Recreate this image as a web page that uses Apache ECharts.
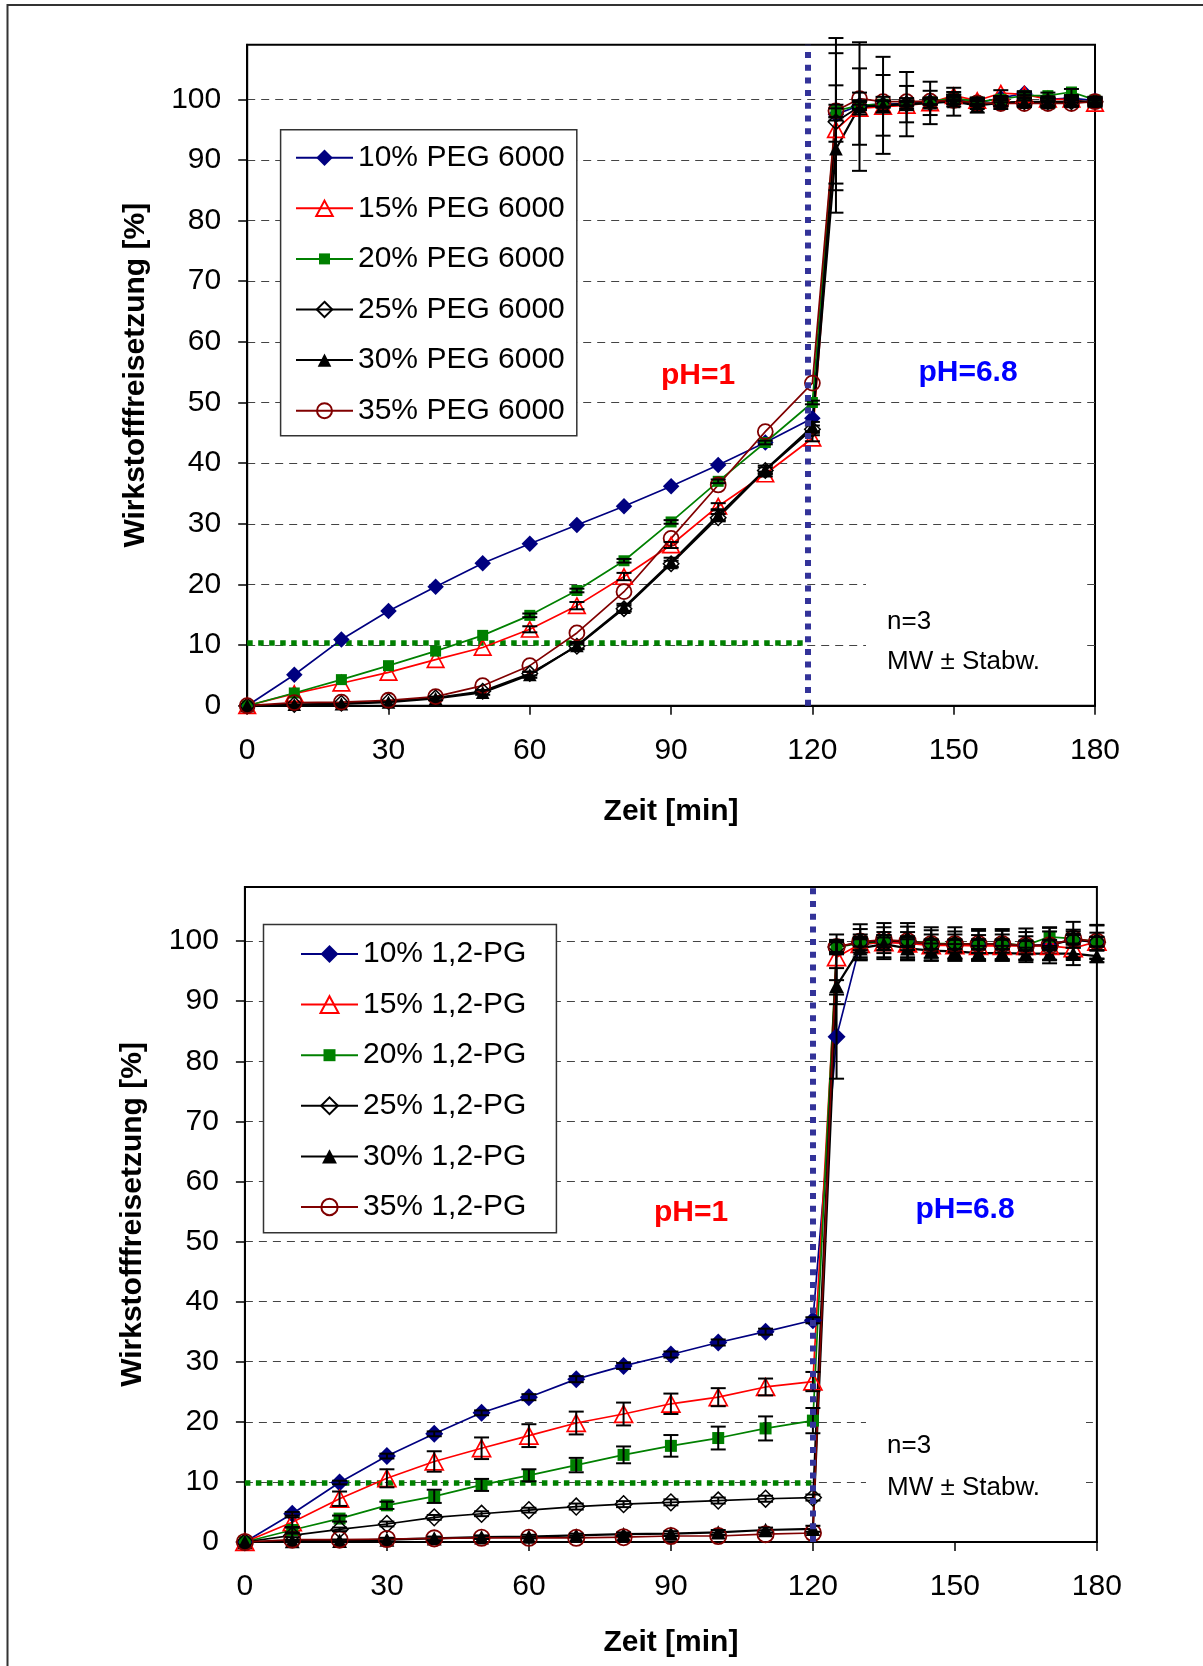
<!DOCTYPE html>
<html><head><meta charset="utf-8">
<script src="https://cdn.jsdelivr.net/npm/echarts@6/dist/echarts.min.js"></script>
<style>html,body{margin:0;padding:0;background:#fff}#c{width:1203px;height:1666px}</style>
</head><body><div id="c"></div>
<script>
// ---------- data ----------
const timeMin = [0,10,20,30,40,50,60,70,80,90,100,110,120,125,130,135,140,145,150,155,160,165,170,175,180];
const xTickLabels = [0,30,60,90,120,150,180];
const yTickLabels = [0,10,20,30,40,50,60,70,80,90,100];

const pegNames = ['10% PEG 6000','15% PEG 6000','20% PEG 6000','25% PEG 6000','30% PEG 6000','35% PEG 6000'];
const pgNames  = ['10% 1,2-PG','15% 1,2-PG','20% 1,2-PG','25% 1,2-PG','30% 1,2-PG','35% 1,2-PG'];

const peg10 = [0,5.1,10.9,15.6,19.6,23.5,26.7,29.8,32.9,36.2,39.7,43.4,47.4, 97.5,99.0,99.2,99.3,99.6,100.0,99.4,100.2,101.0,100.0,100.2,99.8];
const peg15 = [0,2.0,3.7,5.5,7.6,9.6,12.6,16.5,21.3,26.5,32.9,38.2,44.1, 95.0,98.5,98.8,99.0,99.4,100.6,99.8,101.0,100.8,100.0,100.0,99.3];
const peg20 = [0,2.1,4.3,6.6,9.0,11.6,14.9,19.0,23.9,30.3,37.0,43.4,50.0, 98.1,99.0,99.2,99.0,99.6,100.2,99.6,100.0,100.6,100.6,101.2,99.9];
const peg25 = [0,0.2,0.4,0.7,1.3,2.4,5.3,9.8,16.0,23.4,31.0,38.8,45.6, 96.3,98.8,99.0,99.2,99.4,99.8,99.2,99.5,99.6,99.6,99.6,99.6];
const peg30 = [0,0.2,0.3,0.6,1.2,2.2,5.1,9.9,16.2,23.6,31.4,38.9,46.0, 91.8,98.8,99.0,99.2,99.4,99.6,99.0,99.4,99.5,99.4,99.6,99.6];
const peg35 = [0,0.5,0.6,0.9,1.5,3.3,6.6,12.0,18.8,27.6,36.4,45.2,53.2, 98.1,100.1,99.6,99.6,99.7,99.8,99.4,99.3,99.3,99.3,99.3,99.6];

const peg10Sd = [0,0,0,0,0,0,0,0,0,0,0,0,0, 1.0,0.6,0.5,0.4,0.4,0.3,0.3,0.3,0.3,0.3,0.3,0.3];
const peg15Sd = [0,0,0,0,0,0,0.5,0.6,0.6,0.5,0.5,0.4,0.5, 2.0,1.0,1.0,0.8,0.8,0.6,0.5,0.5,0.5,0.5,0.5,0.5];
const peg20Sd = [0,0,0,0,0,0,0.3,0.3,0.3,0.3,0.3,0.3,0.3, 1.0,0.8,0.6,0.5,0.5,0.5,0.5,0.5,0.5,0.5,0.5,0.5];
const peg25Sd = [0,0,0,0,0,0,0.3,0.4,0.5,0.5,0.6,0.5,0.6, 11.3,6.3,5.0,3.0,2.0,1.0,0.8,0.6,0.6,0.6,0.6,0.6];
const peg30Sd = [0,0,0,0,0.3,0.4,0.5,0.6,0.6,0.8,0.8,0.7,0.8, 10.5,10.6,8.0,5.3,3.5,2.3,1.2,1.0,0.8,0.8,0.8,0.8];
const peg35Sd = [0,0,0,0,0,0,0,0,0,0,0,0,0, 12.0,1.0,0.8,0.6,0.6,0.6,0.5,0.5,0.5,0.5,0.5,0.5];

const pg10 = [0,4.7,9.9,14.3,18.0,21.5,24.1,27.1,29.3,31.2,33.2,35.0,36.9, 84.1,99.5,99.8,99.8,99.4,99.4,99.4,99.4,99.2,99.4,100.2,99.9];
const pg15 = [0,3.3,7.2,10.6,13.4,15.6,17.7,19.8,21.3,23.0,24.1,25.8,26.7, 97.3,99.5,99.8,99.6,99.3,99.3,99.2,99.2,99.2,99.2,98.8,99.9];
const pg20 = [0,2.0,3.9,6.1,7.6,9.5,11.1,12.8,14.5,16.0,17.3,18.9,20.2, 99.0,99.6,100.0,100.0,99.6,99.6,99.5,99.6,99.3,100.7,100.4,99.9];
const pg25 = [0,1.1,2.1,3.0,4.1,4.7,5.3,5.9,6.3,6.6,6.9,7.2,7.4, 99.0,99.8,100.0,100.0,99.5,99.5,99.5,99.5,99.3,99.3,100.2,99.8];
const pg30 = [0,0.15,0.2,0.4,0.6,0.8,0.9,1.1,1.3,1.4,1.6,2.0,2.2, 92.5,98.8,99.5,98.8,98.4,98.3,98.0,98.0,97.9,97.9,97.9,97.5];
const pg35 = [0,0.4,0.4,0.5,0.6,0.7,0.7,0.7,0.8,1.0,1.0,1.3,1.5, 99.0,99.9,100.2,100.0,99.5,99.5,99.5,99.5,99.3,99.3,100.4,99.9];

const pg10Sd = [0,0.3,0.3,0.4,0.4,0.4,0.5,0.5,0.5,0.5,0.5,0.5,0.5, 7.0,1.0,0.8,0.8,0.8,0.8,0.8,0.8,0.8,0.8,0.8,0.8];
const pg15Sd = [0,0.8,1.2,1.5,1.7,1.8,1.9,1.9,1.9,1.7,1.5,1.4,1.6, 3.8,2.5,2.5,2.8,2.5,2.3,2.5,2.5,2.3,2.4,2.8,2.8];
const pg20Sd = [0,0.4,0.5,0.6,1.1,1.0,1.0,1.2,1.4,1.8,1.9,2.0,2.1, 1.2,1.5,1.5,1.5,1.5,1.5,1.5,1.5,1.5,1.5,1.5,1.5];
const pg25Sd = [0,0.3,0.3,0.4,0.4,0.4,0.4,0.5,0.5,0.5,0.5,0.5,0.5, 1.0,3.0,3.0,3.0,2.8,2.8,2.5,2.5,2.8,3.0,3.0,2.8];
const pg30Sd = [0,0.2,0.2,0.3,0.3,0.3,0.3,0.3,0.3,0.4,0.4,0.4,0.5, 3.0,1.5,1.5,1.5,1.2,1.2,1.2,1.2,1.0,1.0,1.0,1.0];
const pg35Sd = [0,0,0,0,0,0,0,0,0,0,0,0,0, 0.8,0.8,0.8,0.8,0.8,0.8,0.8,0.8,0.8,0.8,0.8,0.8];

const phaseChangeX = [119.1, 120];   // pH switch line (top, bottom)
const limitLevel   = [10.4, 9.9];    // horizontal dotted limit
const limitEndX    = [118.2, 120];

// ---------- styling ----------
const FONT = '"Liberation Sans", Arial, sans-serif';
const FRAME = 'M0,0M100,100';
const SHAPES = {
  diamond:  'path://' + FRAME + 'M50,12.5L87.5,50L50,87.5L12.5,50Z',
  tri:      'path://' + FRAME + 'M50,15L87.5,85L12.5,85Z',
  square:   'path://' + FRAME + 'M25,25L75,25L75,75L25,75Z',
  odiamond: 'path://' + FRAME + 'M50,15L85,50L50,85L15,50Z',
  tri2:     'path://' + FRAME + 'M50,20L81,80L19,80Z',
  circle:   'path://' + FRAME + 'M16,50A34,34 0 1,1 84,50A34,34 0 1,1 16,50Z'
};
const NOFILL = 'rgba(0,0,0,0)';
const STY = [
  {color:'#000080', fill:'#000080', bw:0,   shape:'diamond',  lw:1.7},
  {color:'#FF0000', fill:NOFILL,    bw:1.7, shape:'tri',      lw:1.7},
  {color:'#008000', fill:'#008000', bw:0,   shape:'square',   lw:1.7},
  {color:'#000000', fill:NOFILL,    bw:1.5, shape:'odiamond', lw:1.7},
  {color:'#000000', fill:'#000000', bw:0,   shape:'tri2',     lw:2.2},
  {color:'#800000', fill:NOFILL,    bw:1.8, shape:'circle',   lw:1.7}
];

function lineSeries(name, values, st, F, gi) {
  return {
    type:'line', name, xAxisIndex:gi, yAxisIndex:gi,
    data: timeMin.map((t,i)=>[t, values[i]]),
    symbol: SHAPES[st.shape], symbolSize: F,
    lineStyle:{color:st.color, width:st.lw},
    itemStyle:{color:st.fill, borderColor:st.color, borderWidth:st.bw},
    clip:false, silent:true, animation:false, emphasis:{disabled:true}, z:2
  };
}
function errSeries(values, sds, gi) {
  const rows = [];
  timeMin.forEach((t,i)=>{ if (sds[i] > 0) rows.push([t, values[i], sds[i]]); });
  return {
    type:'custom', xAxisIndex:gi, yAxisIndex:gi, data:rows, silent:true, animation:false, z:3, clip:false,
    encode:{x:0, y:1},
    renderItem(params, api) {
      const x = api.value(0), y = api.value(1), e = api.value(2);
      const a = api.coord([x, y + e]), b = api.coord([x, y - e]);
      const hw = 7.5, s = {stroke:'#000', lineWidth:2};
      return {type:'group', children:[
        {type:'line', shape:{x1:a[0], y1:a[1], x2:b[0], y2:b[1]}, style:s},
        {type:'line', shape:{x1:a[0]-hw, y1:a[1], x2:a[0]+hw, y2:a[1]}, style:s},
        {type:'line', shape:{x1:b[0]-hw, y1:b[1], x2:b[0]+hw, y2:b[1]}, style:s}
      ]};
    }
  };
}
function guideSeries(gi) {
  return [{
    type:'line', name:'guideV'+gi, xAxisIndex:gi, yAxisIndex:gi, data:[], silent:true, animation:false,
    markLine:{silent:true, animation:false, symbol:['none','none'], label:{show:false}, z:6,
      lineStyle:{color:'#333399', width:6, type:[6,6.7], cap:'butt'},
      emphasis:{disabled:true},
      data:[{xAxis: phaseChangeX[gi]}]}
  },{
    type:'line', name:'guideH'+gi, xAxisIndex:gi, yAxisIndex:gi, data:[], silent:true, animation:false,
    markLine:{silent:true, animation:false, symbol:['none','none'], label:{show:false}, z:1,
      lineStyle:{color:'#008000', width:5.5, type:[5.5,5.5], cap:'butt'},
      emphasis:{disabled:true},
      data:[[{coord:[0, limitLevel[gi]]},{coord:[limitEndX[gi], limitLevel[gi]]}]]}
  }];
}

function xAxis(gi, gap) {
  return {
    gridIndex:gi, type:'value', min:0, max:180, interval:30,
    axisLine:{show:true, lineStyle:{color:'#000', width:2}},
    axisTick:{show:true, length:9, lineStyle:{color:'#000', width:1.5}},
    axisLabel:{fontSize:30, color:'#000', margin:30, fontFamily:FONT,
      formatter: v => xTickLabels.indexOf(v) >= 0 ? String(v) : ''},
    splitLine:{show:false},
    name:'Zeit [min]', nameLocation:'middle', nameGap:gap,
    nameTextStyle:{fontSize:30, fontWeight:'bold', color:'#000', fontFamily:FONT}
  };
}
function yAxis(gi, gap) {
  return {
    gridIndex:gi, type:'value', min:0, max:109, interval:10,
    axisLine:{show:true, lineStyle:{color:'#000', width:2}},
    axisTick:{show:true, length:9, lineStyle:{color:'#000', width:1.5}, customValues:yTickLabels},
    axisLabel:{fontSize:30, color:'#000', margin:26, fontFamily:FONT, customValues:yTickLabels,
      formatter: v => v > 100 ? '' : String(v)},
    splitLine:{show:true, lineStyle:{color:'#444', width:1, type:[8,6]}},
    name:'Wirkstofffreisetzung [%]', nameLocation:'middle', nameGap:gap, nameRotate:90,
    nameTextStyle:{fontSize:30, fontWeight:'bold', color:'#000', fontFamily:FONT}
  };
}
function legend(names, left, top, itemH, padding) {
  return {
    data:names, orient:'vertical', left, top, itemWidth:57, itemHeight:itemH, itemGap:20.6,
    padding, backgroundColor:'#fff', borderColor:'#333', borderWidth:1.5, selectedMode:false,
    textStyle:{fontSize:30, fontFamily:FONT, color:'#000', lineHeight:30}
  };
}
function textEl(text, x, y, fill, weight, size, align) {
  return {type:'text', x, y, z:10, silent:true,
    style:{text, fill, font: weight + ' ' + size + 'px ' + FONT,
      textAlign:align, align:align, textVerticalAlign:'middle', verticalAlign:'middle'}};
}

const pegSets = [peg10,peg15,peg20,peg25,peg30,peg35];
const pegSds  = [peg10Sd,peg15Sd,peg20Sd,peg25Sd,peg30Sd,peg35Sd];
const pgSets  = [pg10,pg15,pg20,pg25,pg30,pg35];
const pgSds   = [pg10Sd,pg15Sd,pg20Sd,pg25Sd,pg30Sd,pg35Sd];

const series = [];
series.push(...guideSeries(0), ...guideSeries(1));
pegSets.forEach((v,i)=>series.push(lineSeries(pegNames[i], v, STY[i], 22, 0)));
pgSets.forEach((v,i)=>series.push(lineSeries(pgNames[i], v, STY[i], 24, 1)));
pegSets.forEach((v,i)=>series.push(errSeries(v, pegSds[i], 0)));
pgSets.forEach((v,i)=>series.push(errSeries(v, pgSds[i], 1)));

const option = {
  animation:false,
  backgroundColor:'#fff',
  textStyle:{fontFamily:FONT},
  grid:[
    {left:247.2, top:44.7, width:847.8, height:661, show:true, borderColor:'#000', borderWidth:2, backgroundColor:'transparent'},
    {left:244.9, top:887, width:852, height:655, show:true, borderColor:'#000', borderWidth:2, backgroundColor:'transparent'}
  ],
  xAxis:[xAxis(0, 91), xAxis(1, 86)],
  yAxis:[yAxis(0, 96), yAxis(1, 97)],
  legend:[
    legend(pegNames, 280.6, 129.7, 27.5, [13, 12, 10, 14.4]),
    legend(pgNames, 263.5, 924.5, 30, [14.5, 30, 10.7, 36.5])
  ],
  graphic:[
    {type:'rect', z:0, silent:true, shape:{x:7.5, y:5, width:1400, height:1900}, style:{fill:'none', stroke:'#333', lineWidth:2}},
    {type:'rect', z:1, silent:true, shape:{x:866, y:555, width:218, height:146}, style:{fill:'#fff'}},
    {type:'rect', z:1, silent:true, shape:{x:866, y:1398, width:220, height:140}, style:{fill:'#fff'}},
    textEl('pH=1', 698, 376, '#FF0000', 'bold', 30, 'center'),
    textEl('pH=6.8', 968, 373, '#0000FF', 'bold', 30, 'center'),
    textEl('n=3', 887, 622, '#000', 'normal', 26, 'left'),
    textEl('MW ± Stabw.', 887, 662, '#000', 'normal', 26, 'left'),
    textEl('pH=1', 691, 1213, '#FF0000', 'bold', 30, 'center'),
    textEl('pH=6.8', 965, 1210, '#0000FF', 'bold', 30, 'center'),
    textEl('n=3', 887, 1446, '#000', 'normal', 26, 'left'),
    textEl('MW ± Stabw.', 887, 1488, '#000', 'normal', 26, 'left')
  ],
  series
};
const chart = echarts.init(document.getElementById('c'), null, {renderer:'canvas'});
chart.setOption(option);
</script>
</body></html>
